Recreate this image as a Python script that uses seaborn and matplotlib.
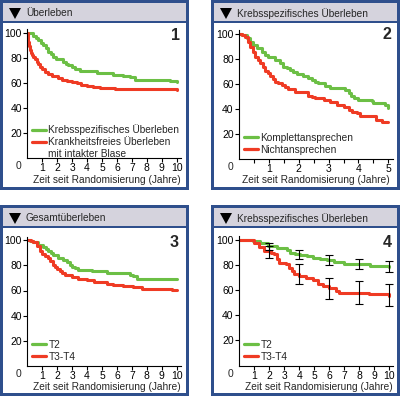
import numpy as np
import pandas as pd
import matplotlib
matplotlib.use("Agg")
import matplotlib.pyplot as plt
import seaborn as sns
from matplotlib.patches import Rectangle, Polygon
from matplotlib.lines import Line2D

# ---------------- data ----------------
titles = ["Überleben", "Krebsspezifisches Überleben", "Gesamtüberleben", "Krebsspezifisches Überleben"]
panel_numbers = ["1", "2", "3", "4"]
x_label = "Zeit seit Randomisierung (Jahre)"
y_ticks = [20, 40, 60, 80, 100]

p1_labels = ["Krebsspezifisches Überleben", "Krankheitsfreies Überleben"]
p1_label_extra = "mit intakter Blase"
p1_green_t = [0, 0.35, 0.55, 0.73, 0.9, 1.07, 1.25, 1.4, 1.55, 1.74, 1.9, 2.07, 2.4, 2.6, 2.74, 3.0,
              3.19, 3.52, 4.3, 4.64, 5.3, 5.76, 6.43, 6.87, 7.2, 8.88, 9.55, 10]
p1_green_s = [100, 98, 96, 94.4, 92, 90.4, 88, 85, 83, 80.5, 79.5, 79, 77, 75.5, 74.4, 72.5,
              71.2, 69.9, 69.6, 68.3, 67.7, 66.4, 65.6, 64.5, 62.4, 62.1, 61.6, 61]
p1_red_t = [0, 0.03, 0.06, 0.1, 0.17, 0.25, 0.33, 0.4, 0.5, 0.62, 0.73, 0.85, 1.0, 1.18, 1.4, 1.63,
            2.07, 2.35, 2.63, 3.0, 3.3, 3.6, 3.97, 4.4, 4.86, 5.87, 10]
p1_red_s = [100, 96, 93, 90, 86.4, 84, 82.5, 81, 79, 77, 75, 73, 71, 69, 67, 65.6,
            63.7, 62.5, 61.6, 60.5, 59.7, 58.8, 57.9, 57, 56.3, 55, 54.4]

p2_labels = ["Komplettansprechen", "Nichtansprechen"]
p2_green_t = [0, 0.1, 0.25, 0.35, 0.47, 0.6, 0.75, 0.87, 0.98, 1.2, 1.37, 1.48, 1.6, 1.7, 1.8, 1.93,
              2.15, 2.3, 2.43, 2.55, 2.66, 2.88, 3.05, 3.56, 3.67, 3.76, 3.84, 4.0, 4.45, 4.5, 4.9, 5.0]
p2_green_s = [100, 99, 96.5, 94, 91.2, 88.5, 85.9, 83.5, 81.4, 79.2, 76.5, 73.9, 72.5, 71.2, 69.5, 68,
              66.4, 65, 63.2, 62, 60.5, 58.4, 56.5, 55.2, 52.5, 50.5, 48.5, 47.2, 46.7, 44.5, 43.2, 40.5]
p2_red_t = [0, 0.1, 0.2, 0.28, 0.37, 0.45, 0.54, 0.62, 0.71, 0.8, 0.88, 0.96, 1.04, 1.12, 1.2, 1.3,
            1.43, 1.55, 1.65, 1.88, 2.15, 2.32, 2.45, 2.55, 2.83, 3.05, 3.27, 3.5, 3.67, 3.8, 3.95,
            4.06, 4.6, 4.78, 5.0]
p2_red_s = [100, 99, 97.9, 94, 89.9, 86, 81.9, 79, 76.5, 73.5, 70.7, 68.5, 66.4, 64, 61.9, 60.5,
            59.2, 57.5, 55.7, 53.9, 53.3, 50.4, 49.5, 48.5, 47.2, 45.9, 43.2, 41.9, 39.2, 37.8, 36.5,
            34.7, 31.2, 29.9, 29.9]

p3_labels = ["T2", "T3-T4"]
p3_green_t = [0, 0.2, 0.4, 0.73, 1.07, 1.25, 1.4, 1.55, 1.74, 2.07, 2.4, 2.63, 2.86, 3.0, 3.19, 3.42,
              4.3, 5.3, 6.87, 7.1, 7.32, 10]
p3_green_s = [100, 99.5, 99, 96.5, 94.4, 93, 91.7, 90, 88, 85.9, 84.6, 82.7, 80.6, 79, 77.9, 76.6,
              75.3, 73.9, 72.6, 71.3, 69.4, 69.4]
p3_red_t = [0, 0.25, 0.4, 0.62, 0.85, 1.0, 1.18, 1.35, 1.52, 1.7, 1.85, 2.0, 2.18, 2.35, 2.52, 2.96,
            3.42, 3.97, 4.43, 5.3, 5.76, 6.43, 7.1, 7.65, 9.33, 9.66, 10]
p3_red_s = [100, 99.5, 98.6, 95.2, 91.2, 89, 87.2, 85.5, 83.3, 80.5, 78.5, 77, 75.8, 74, 72.6, 70.8,
            69.2, 68, 66.8, 65.5, 64.6, 63.3, 62.4, 61.5, 61.2, 60.7, 60.1]

p4_labels = ["T2", "T3-T4"]
p4_green_t = [0, 0.94, 1.38, 1.94, 2.5, 3.16, 3.39, 3.7, 4.06, 4.5, 4.95, 5.4, 5.85, 6.3, 6.97, 7.86,
              8.75, 10]
p4_green_s = [100, 99.2, 97.8, 95.2, 93.3, 91.7, 89.9, 89, 88, 87, 85.9, 85, 84, 82.5, 81.1, 80.6,
              79.3, 78.8]
p4_red_t = [0, 0.67, 1.0, 1.34, 1.67, 2.12, 2.34, 2.5, 2.67, 3.12, 3.34, 3.5, 3.68, 4.01, 4.46, 4.9,
            5.24, 5.57, 6.01, 6.46, 6.68, 8.7, 9.7, 10]
p4_red_s = [100, 100, 97.8, 94.4, 91.2, 89.9, 88.5, 84.6, 81.9, 80.6, 77.9, 75, 72.6, 71.3, 70, 67.8,
            65.2, 63.3, 61.5, 59.4, 58, 57.2, 56.7, 55.4]

p4_ci_t = [2, 4, 6, 8, 10]
p4_green_ci_mid = [95, 88.5, 84, 80.8, 79]
p4_green_ci_low = [92, 85, 80, 77.1, 74.7]
p4_green_ci_high = [97.3, 92, 88, 84.6, 83.2]
p4_red_ci_mid = [90.5, 72.5, 61.5, 58, 55.5]
p4_red_ci_low = [85.3, 65.2, 52.7, 49.2, 47.4]
p4_red_ci_high = [95.5, 80.6, 70, 67.3, 64.6]

# ---------------- style ----------------
sns.set_style("ticks")
plt.rcParams['font.family'] = ['Liberation Sans', 'DejaVu Sans']
FS = 7.5     # tick labels
FT = 7.3     # other text
BLUE = '#2f4f8c'
GRAY = '#d5d3dd'
GREEN = '#6cbf45'
RED = '#ef3b24'
LW = 2.2

W, H = 400, 396
fig = plt.figure(figsize=(4, 3.96), dpi=100)
fig.patch.set_facecolor('white')


def fx(x):
    return x / W


def fy(y):
    return 1 - y / H


def rect(x, y, w, h, color, z):
    fig.add_artist(Rectangle((fx(x), fy(y + h)), w / W, h / H, transform=fig.transFigure,
                             facecolor=color, edgecolor='none', zorder=z))


def panel_frame(x0, y0, w, h, title, num, num_xy):
    rect(x0, y0, w, h, BLUE, 0)
    rect(x0 + 3, y0 + 3, w - 6, h - 6, 'white', 1)
    rect(x0 + 3, y0 + 3, w - 6, 18, GRAY, 2)
    rect(x0 + 3, y0 + 21, w - 6, 2, BLUE, 2)
    tri = Polygon([(fx(x0 + 9), fy(y0 + 8)), (fx(x0 + 21), fy(y0 + 8)), (fx(x0 + 15), fy(y0 + 19))],
                  closed=True, transform=fig.transFigure, facecolor='black', edgecolor='none', zorder=3)
    fig.add_artist(tri)
    fig.text(fx(x0 + 26), fy(y0 + 13.3), title, fontsize=FT, va='center', ha='left', zorder=4)
    fig.text(fx(num_xy[0]), fy(num_xy[1]), num, fontsize=11.5, fontweight='bold',
             va='center', ha='center', zorder=6)


def make_ax(ox, oy, xscale, xmax, yscale, ymax):
    ax = fig.add_axes([fx(ox), fy(oy), xscale * xmax / W, yscale * ymax / H])
    ax.set_zorder(5)
    ax.patch.set_alpha(0)
    ax.set_xlim(0, xmax)
    ax.set_ylim(0, ymax)
    sns.despine(ax=ax)
    for s in ['left', 'bottom']:
        ax.spines[s].set_linewidth(0.8)
        ax.spines[s].set_color('black')
    ax.tick_params(axis='both', direction='out', length=3, width=0.8, colors='black', labelsize=FS)
    ax.tick_params(axis='y', pad=1)
    ax.tick_params(axis='x', pad=0.8)
    ax.set_yticks(y_ticks)
    ax.set_ylabel('')
    ax.annotate('0', xy=(0, 0), xytext=(-6.5, -6), textcoords='offset points',
                ha='center', va='center', fontsize=FS)
    return ax


def draw_curves(ax, gt, gs, rt, rs, labels):
    sns.lineplot(x=gt, y=gs, ax=ax, color=GREEN, linewidth=LW, drawstyle='steps-post',
                 estimator=None, errorbar=None, label=labels[0])
    sns.lineplot(x=rt, y=rs, ax=ax, color=RED, linewidth=LW, drawstyle='steps-post',
                 estimator=None, errorbar=None, label=labels[1])


def place_xlabel(ax, cx, cy):
    ax.set_xlabel(x_label, fontsize=FT)
    ax.xaxis.set_label_coords(fx(cx), fy(cy), transform=fig.transFigure)
    ax.xaxis.label.set_verticalalignment('center')


def place_legend(ax, lx, ly, extra=None):
    handles, labels = ax.get_legend_handles_labels()
    if extra is not None:
        handles.append(Line2D([], [], color='none'))
        labels.append(extra)
    leg = ax.legend(handles, labels, loc='upper left', bbox_to_anchor=(fx(lx), fy(ly)),
                    bbox_transform=fig.transFigure, frameon=False, fontsize=FT,
                    handlelength=1.4, handletextpad=0.22, labelspacing=0.2,
                    borderpad=0, borderaxespad=0)
    for line in leg.get_lines():
        line.set_linewidth(2.3)


# ---------------- panels ----------------
panel_frame(0, 0, 189, 190, titles[0], panel_numbers[0], (175, 35))
panel_frame(211, 0, 189, 190, titles[1], panel_numbers[1], (387, 34.5))
panel_frame(0, 205, 189, 191, titles[2], panel_numbers[2], (174.5, 242.5))
panel_frame(211, 205, 189, 191, titles[3], panel_numbers[3], (387, 242.5))

# panel 1
ax1 = make_ax(27.4, 158, 14.93, 10.3, 1.25, 103)
draw_curves(ax1, p1_green_t, p1_green_s, p1_red_t, p1_red_s, p1_labels)
ax1.set_xticks(range(1, 11))
place_xlabel(ax1, 107, 180)
place_legend(ax1, 32, 124.5, extra=p1_label_extra)

# panel 2
ax2 = make_ax(239.2, 159, 29.8, 5.15, 1.25, 103)
draw_curves(ax2, p2_green_t, p2_green_s, p2_red_t, p2_red_s, p2_labels)
ticks2 = np.arange(0.5, 5.01, 0.5)
ax2.set_xticks(ticks2)
ax2.set_xticklabels([str(int(t)) if float(t).is_integer() else '' for t in ticks2])
place_xlabel(ax2, 315.5, 180)
place_legend(ax2, 244, 133)

# panel 3
ax3 = make_ax(27.4, 365.8, 14.93, 10.3, 1.255, 103)
draw_curves(ax3, p3_green_t, p3_green_s, p3_red_t, p3_red_s, p3_labels)
ax3.set_xticks(range(1, 11))
place_xlabel(ax3, 106.5, 387.3)
place_legend(ax3, 32, 340)

# panel 4
ax4 = make_ax(239.3, 365.5, 14.96, 10.3, 1.255, 103)
draw_curves(ax4, p4_green_t, p4_green_s, p4_red_t, p4_red_s, p4_labels)
ax4.errorbar(p4_ci_t, p4_green_ci_mid,
             yerr=[np.subtract(p4_green_ci_mid, p4_green_ci_low), np.subtract(p4_green_ci_high, p4_green_ci_mid)],
             fmt='none', ecolor='black', elinewidth=0.8, capsize=2.7, capthick=0.8, zorder=5)
ax4.errorbar(p4_ci_t, p4_red_ci_mid,
             yerr=[np.subtract(p4_red_ci_mid, p4_red_ci_low), np.subtract(p4_red_ci_high, p4_red_ci_mid)],
             fmt='none', ecolor='black', elinewidth=0.8, capsize=2.7, capthick=0.8, zorder=5)
ax4.set_xticks(range(1, 11))
place_xlabel(ax4, 318.5, 387.3)
place_legend(ax4, 244, 340)

fig.savefig('out.png', dpi=100, facecolor='white')
